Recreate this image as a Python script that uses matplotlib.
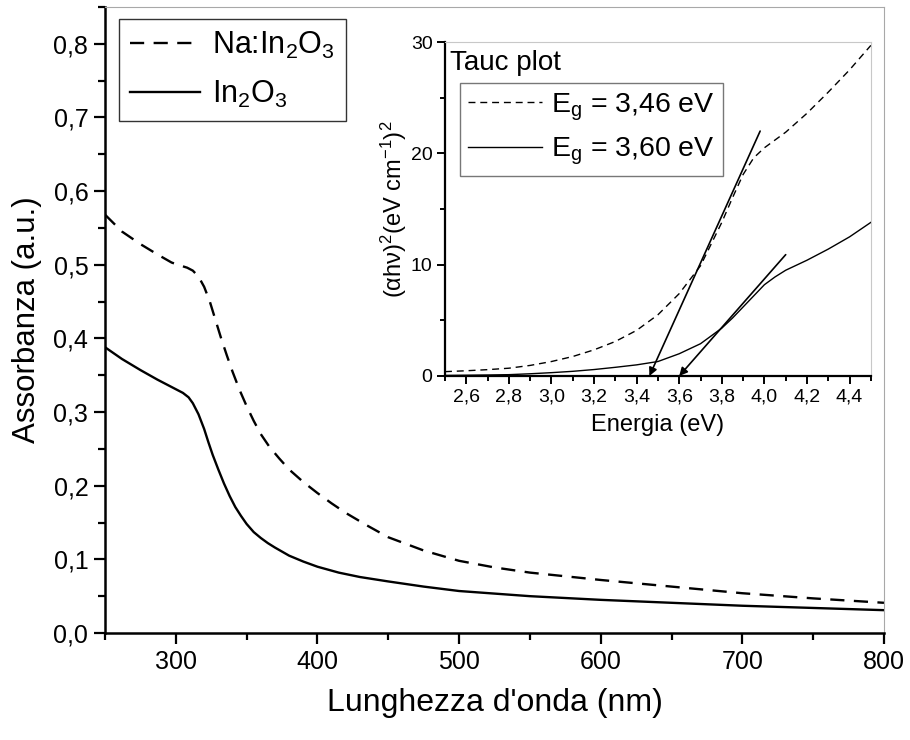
import matplotlib
matplotlib.use("Agg")
import matplotlib.pyplot as plt
from matplotlib.ticker import MultipleLocator, FuncFormatter

plt.rcParams["font.family"] = ["Liberation Sans", "DejaVu Sans"]
plt.rcParams["mathtext.fontset"] = "custom"
plt.rcParams["mathtext.rm"] = "Liberation Sans"
plt.rcParams["mathtext.it"] = "Liberation Sans:italic"
plt.rcParams["mathtext.default"] = "rm"

# absorbance spectra
wl_na = [250, 262, 275, 287, 297, 303, 308, 312, 316, 320, 324, 328, 332, 336, 340,
         345, 350, 355, 360, 366, 373, 380, 390, 400, 410, 420, 435, 450, 475, 500,
         525, 550, 575, 600, 650, 700, 750, 800]
abs_na = [0.568, 0.545, 0.528, 0.514, 0.503, 0.499, 0.496, 0.492, 0.484, 0.470, 0.450,
          0.425, 0.400, 0.377, 0.355, 0.330, 0.308, 0.288, 0.270, 0.253, 0.237, 0.222,
          0.205, 0.190, 0.176, 0.163, 0.146, 0.130, 0.112, 0.098, 0.089, 0.082, 0.077,
          0.072, 0.063, 0.054, 0.047, 0.041]

wl_in = [250, 262, 275, 287, 297, 305, 309, 312, 316, 320, 323, 326, 330, 334, 338,
         342, 346, 350, 355, 360, 365, 370, 380, 390, 400, 415, 430, 450, 475, 500,
         550, 600, 650, 700, 750, 800]
abs_in = [0.388, 0.372, 0.357, 0.344, 0.334, 0.326, 0.320, 0.312, 0.297, 0.277, 0.259,
          0.242, 0.222, 0.203, 0.186, 0.171, 0.159, 0.148, 0.137, 0.129, 0.122, 0.116,
          0.105, 0.097, 0.090, 0.082, 0.076, 0.070, 0.063, 0.057, 0.050, 0.045, 0.041,
          0.037, 0.034, 0.031]

# Tauc plot
en = [2.5, 2.6, 2.7, 2.8, 2.9, 3.0, 3.1, 3.2, 3.3, 3.4, 3.5, 3.6, 3.7, 3.8, 3.85,
      3.9, 3.95, 4.0, 4.05, 4.1, 4.2, 4.3, 4.4, 4.5]
tauc_na = [0.39, 0.47, 0.57, 0.70, 0.95, 1.30, 1.75, 2.35, 3.10, 4.10, 5.50, 7.40,
           9.90, 13.8, 16.0, 18.1, 19.6, 20.5, 21.2, 21.9, 23.6, 25.5, 27.5, 29.7]
tauc_in = [0.05, 0.07, 0.09, 0.12, 0.20, 0.30, 0.42, 0.58, 0.78, 1.00, 1.30, 2.00,
           2.90, 4.30, 5.20, 6.20, 7.20, 8.20, 8.90, 9.50, 10.4, 11.4, 12.5, 13.8]

# linear fits (start point, band-gap intercept)
fit_na = [(3.98, 22.0), (3.46, 0.0)]
fit_in = [(4.10, 10.9), (3.60, 0.0)]

labels_main = ["Na:In$_2$O$_3$", "In$_2$O$_3$"]
labels_tauc = ["E$_\\mathrm{g}$ = 3,46 eV", "E$_\\mathrm{g}$ = 3,60 eV"]

comma = FuncFormatter(lambda v, p: f"{v:.1f}".replace(".", ","))
comma0 = FuncFormatter(lambda v, p: f"{v:.0f}")

fig = plt.figure(figsize=(9.1, 7.4), dpi=100)
ax = fig.add_axes([0.1154, 0.1446, 0.856, 0.846])

ax.plot(wl_na, abs_na, color="black", lw=1.7, ls=(0, (6, 4)), label=labels_main[0])
ax.plot(wl_in, abs_in, color="black", lw=1.7, label=labels_main[1])
ax.set_xlim(250, 800)
ax.set_ylim(0, 0.85)
ax.xaxis.set_major_locator(MultipleLocator(100))
ax.xaxis.set_minor_locator(MultipleLocator(50))
ax.yaxis.set_major_locator(MultipleLocator(0.1))
ax.yaxis.set_minor_locator(MultipleLocator(0.05))
ax.yaxis.set_major_formatter(comma)
ax.xaxis.set_major_formatter(comma0)
ax.tick_params(which="both", direction="out", width=1.6, top=False, right=False)
ax.tick_params(which="major", length=8, labelsize=18, pad=4)
ax.tick_params(which="minor", length=5)
for s in ("left", "bottom"):
    ax.spines[s].set_linewidth(1.8)
for s in ("top", "right"):
    ax.spines[s].set_linewidth(0.8)
    ax.spines[s].set_color("#a8a8a8")
ax.set_xlabel("Lunghezza d'onda (nm)", fontsize=23, labelpad=10)
ax.set_ylabel("Assorbanza (a.u.)", fontsize=22.5, labelpad=8)
leg = ax.legend(loc="upper left", bbox_to_anchor=(0.018, 0.981), borderaxespad=0,
                fontsize=22, handlelength=2.3, frameon=True, fancybox=False,
                edgecolor="black", borderpad=0.35, labelspacing=0.6, handletextpad=0.4)
leg.get_frame().set_linewidth(1.0)

# inset
ins = fig.add_axes([0.489, 0.4919, 0.468, 0.4513])
ins.plot(en, tauc_na, color="black", lw=1.0, ls=(0, (5, 3.5)), label=labels_tauc[0])
ins.plot(en, tauc_in, color="black", lw=1.0, label=labels_tauc[1])
for fit in (fit_na, fit_in):
    ins.annotate("", xy=fit[1], xytext=fit[0],
                 arrowprops=dict(arrowstyle="-|>", color="black", lw=1.2,
                                 mutation_scale=12, shrinkA=0, shrinkB=0))
ins.set_xlim(2.5, 4.5)
ins.set_ylim(0, 30)
ins.xaxis.set_major_locator(MultipleLocator(0.2))
ins.xaxis.set_minor_locator(MultipleLocator(0.1))
ins.yaxis.set_major_locator(MultipleLocator(10))
ins.yaxis.set_minor_locator(MultipleLocator(5))
ins.xaxis.set_major_formatter(comma)
ins.yaxis.set_major_formatter(comma0)
ins.tick_params(which="both", direction="out", width=1.4, top=False, right=False)
ins.tick_params(which="major", length=6, labelsize=14, pad=3)
ins.tick_params(which="minor", length=3.5)
for s in ("left", "bottom"):
    ins.spines[s].set_linewidth(1.6)
for s in ("top", "right"):
    ins.spines[s].set_linewidth(0.8)
    ins.spines[s].set_color("#c8c8c8")
ins.set_xlabel("Energia (eV)", fontsize=17, labelpad=6)
ins.set_ylabel("$(\\alpha h\\nu)^2$(eV cm$^{-1}$)$^2$", fontsize=17, labelpad=1)
ins.text(0.012, 0.975, "Tauc plot", transform=ins.transAxes, fontsize=20,
         ha="left", va="top")
leg2 = ins.legend(loc="upper left", bbox_to_anchor=(0.035, 0.877), borderaxespad=0,
                  fontsize=20.5, handlelength=2.6, frameon=True, fancybox=False,
                  edgecolor="#555555", borderpad=0.3, labelspacing=0.45, handletextpad=0.3)
leg2.get_frame().set_linewidth(1.0)

fig.savefig("out.png", dpi=100, facecolor="white")
